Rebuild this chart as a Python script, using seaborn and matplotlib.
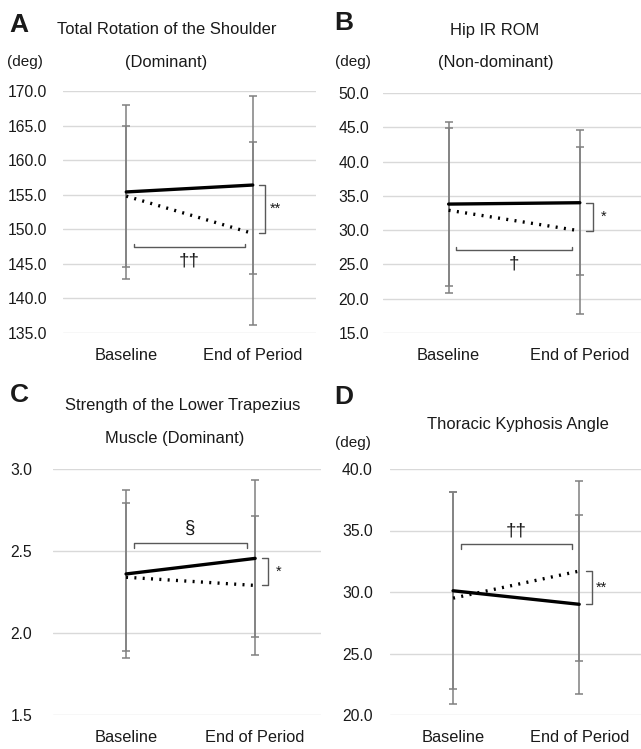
import numpy as np
import pandas as pd
import seaborn as sns
import matplotlib.pyplot as plt

# data ..........................................................
times = ["Baseline", "End of Period"]
groups = ["solid", "dotted"]

# A: total rotation of the shoulder (dominant)
a_solid = [155.4, 156.4]
a_dotted = [154.8, 149.4]
a_solid_sd = [12.6, 12.9]
a_dotted_sd = [10.2, 13.2]

# B: hip IR ROM (non-dominant)
b_solid = [33.8, 34.0]
b_dotted = [32.9, 29.9]
b_solid_sd = [12.0, 10.6]
b_dotted_sd = [12.0, 12.2]

# C: strength of the lower trapezius muscle (dominant)
c_solid = [2.36, 2.455]
c_dotted = [2.34, 2.29]
c_solid_sd = [0.51, 0.48]
c_dotted_sd = [0.45, 0.425]

# D: thoracic kyphosis angle
d_solid = [30.1, 29.0]
d_dotted = [29.5, 31.7]
d_solid_sd = [8.0, 7.3]
d_dotted_sd = [8.6, 7.3]

yticks_a = [135, 140, 145, 150, 155, 160, 165, 170]
yticks_b = [15, 20, 25, 30, 35, 40, 45, 50]
yticks_c = [1.5, 2.0, 2.5, 3.0]
yticks_d = [20, 25, 30, 35, 40]

sns.set_theme(style="white")
plt.rcParams['font.family'] = ['Liberation Sans', 'DejaVu Sans']

W, H = 641, 749
fig = plt.figure(figsize=(W / 100, H / 100), dpi=100)

GRID = "#d9d9d9"
BAR = "#808080"
BRK = "#595959"
TXT = "#1a1a1a"


def rect(x0, x1, y0, y1):
    return [x0 / W, 1 - y1 / H, (x1 - x0) / W, (y1 - y0) / H]


def panel(r, xlim, solid, dotted, solid_sd, dotted_sd, yticks, hbr, hsign, hup,
          vsign, pad):
    ax = fig.add_axes(r)
    df = pd.DataFrame({
        "time": times * 2,
        "value": solid + dotted,
        "group": [groups[0]] * 2 + [groups[1]] * 2,
    })
    xpos = np.arange(len(times))
    # error bars, under the lines
    for m, s in [(solid, solid_sd), (dotted, dotted_sd)]:
        ax.errorbar(xpos, m, yerr=s, fmt="none", ecolor=BAR, elinewidth=1.1,
                    capsize=3, capthick=1.1, zorder=2)
    sns.lineplot(data=df, x="time", y="value", style="group",
                 dashes={"solid": "", "dotted": (0.6, 1.9)},
                 color="black", linewidth=2.4, legend=False, ax=ax, zorder=3)
    ax.set_xlim(*xlim)
    ax.set_ylim(yticks[0], yticks[-1])
    ax.set_yticks(yticks)
    ax.yaxis.set_major_formatter(plt.FormatStrFormatter("%.1f"))
    ax.grid(axis="y", color=GRID, lw=1)
    ax.grid(axis="x", visible=False)
    for sp in ax.spines.values():
        sp.set_visible(False)
    ax.tick_params(axis="y", length=0, pad=pad, labelsize=11.3, colors=TXT)
    ax.tick_params(axis="x", length=0, pad=11, labelsize=11.8, colors=TXT)
    ax.set_xlabel("")
    ax.set_ylabel("")
    # horizontal bracket between time points
    yb, dy, ty = hbr
    tk = dy if hup else -dy
    ax.plot([0.06, 0.06, 0.94, 0.94], [yb + tk, yb, yb, yb + tk],
            color=BRK, lw=1, zorder=4)
    ax.text(0.5, ty, hsign, ha="center", va="center", fontsize=13.5,
            color=TXT)
    # vertical bracket between groups at end
    y1, y2 = solid[1], dotted[1]
    ax.plot([1.05, 1.1, 1.1, 1.05], [y1, y1, y2, y2], color=BRK, lw=1,
            clip_on=False, zorder=4)
    ax.text(1.18, (y1 + y2) / 2, vsign, ha="center", va="center",
            fontsize=10.5, color=TXT)
    return ax


panel(rect(63, 316, 91, 333), (-0.5, 1.5), a_solid, a_dotted, a_solid_sd,
      a_dotted_sd, yticks_a, (147.4, 0.5, 145.4), "\u2020\u2020", True, "**", 11.5)
panel(rect(383, 641, 93, 333), (-0.5, 1.466), b_solid, b_dotted, b_solid_sd,
      b_dotted_sd, yticks_b, (27.1, 0.5, 25.0), "\u2020", True, "*", 10)
panel(rect(53, 321, 469, 715), (-0.566, 1.51), c_solid, c_dotted, c_solid_sd,
      c_dotted_sd, yticks_c, (2.55, 0.03, 2.64), "\u00a7", False, "*", 15)
panel(rect(390, 641, 469, 715), (-0.5, 1.49), d_solid, d_dotted, d_solid_sd,
      d_dotted_sd, yticks_d, (33.9, 0.4, 34.95), "\u2020\u2020", False, "**", 12.3)

# titles and labels
def ftext(x, y, s, **kw):
    fig.text(x / W, 1 - y / H, s, va="center", color=TXT, **kw)

ftext(9, 25, "A", fontsize=19, fontweight="bold")
ftext(334, 23, "B", fontsize=19, fontweight="bold")
ftext(10, 395, "C", fontsize=19, fontweight="bold")
ftext(334, 397, "D", fontsize=19, fontweight="bold")

ftext(167, 30, "Total Rotation of the Shoulder", ha="center", fontsize=11.9)
ftext(166, 62, "(Dominant)", ha="center", fontsize=11.9)
ftext(495, 31, "Hip IR ROM", ha="center", fontsize=11.9)
ftext(496, 62, "(Non-dominant)", ha="center", fontsize=11.9)
ftext(183, 405, "Strength of the Lower Trapezius", ha="center", fontsize=11.9)
ftext(175, 438, "Muscle (Dominant)", ha="center", fontsize=11.9)
ftext(518, 425, "Thoracic Kyphosis Angle", ha="center", fontsize=11.9)

ftext(7, 62, "(deg)", ha="left", fontsize=11)
ftext(335, 62, "(deg)", ha="left", fontsize=11)
ftext(335, 443, "(deg)", ha="left", fontsize=11)

fig.savefig("out.png", dpi=100)
